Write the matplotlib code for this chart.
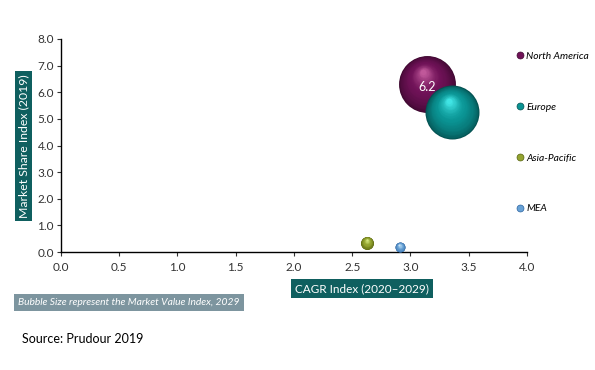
import numpy as np
import matplotlib
matplotlib.use('Agg')
import matplotlib.pyplot as plt
import matplotlib.colors as mcolors
import matplotlib.transforms as mtransforms
from matplotlib.lines import Line2D

plt.rcParams['font.family'] = ['Lato', 'DejaVu Sans']

# data
regions = ['North America', 'Europe', 'Asia-Pacific', 'MEA']
cagr_index = [3.14, 3.36, 2.63, 2.91]
share_index = [6.3, 5.24, 0.34, 0.18]
value_index = [8.1, 7.3, 0.42, 0.25]   # bubble size
labels = ['6.2', '', '', '']

# dark edge, base, highlight
colours = [
    ('#3e0830', '#701258', '#c0589a'),
    ('#045050', '#0a9494', '#40e4e4'),
    ('#56620e', '#94a430', '#d4e880'),
    ('#2c64a0', '#68a2d6', '#c8e6fa'),
]
teal = '#0f5f5f'

def mix(c1, c2, t):
    a = np.array(mcolors.to_rgb(c1))
    b = np.array(mcolors.to_rgb(c2))
    return tuple(a + (b - a) * t)

def sphere(ax, fig, x, y, s, dark, base, light, z):
    r = np.sqrt(s) / 2.0
    n = 32
    for k in range(n):
        t = k / (n - 1.0)
        rad = r * (1 - 0.9 * t)
        tr = mtransforms.offset_copy(ax.transData, fig=fig, x=-0.12 * r * t, y=0.42 * r * t, units='points')
        if t < 0.5:
            c = mix(dark, base, (t / 0.5) ** 0.6)
        else:
            c = mix(base, light, ((t - 0.5) / 0.5) ** 1.5)
        ax.scatter([x], [y], s=(2 * rad) ** 2, color=c, transform=tr, zorder=z + k * 0.001, linewidths=0)

fig = plt.figure(figsize=(5.95, 3.7), dpi=100)
ax = fig.add_axes([0.1025, 0.3189, 0.7832, 0.5757])

scale = 207.0
for i in range(len(regions)):
    sphere(ax, fig, cagr_index[i], share_index[i], value_index[i] * scale, colours[i][0], colours[i][1], colours[i][2], 3 + i)
    if labels[i]:
        ax.text(cagr_index[i], share_index[i] - 0.1, labels[i], color='white', fontsize=9,
                ha='center', va='center', zorder=20)

ax.set_xlim(0, 4)
ax.set_ylim(0, 8)
ax.set_xticks(np.arange(0, 4.01, 0.5))
ax.set_yticks(np.arange(0, 8.01, 1))
ax.set_xticklabels(['%.1f' % v for v in np.arange(0, 4.01, 0.5)])
ax.set_yticklabels(['%.1f' % v for v in np.arange(0, 8.01, 1)])
ax.tick_params(labelsize=8.5, colors='#333333', length=3, width=0.8, pad=2)
ax.tick_params(axis='x', pad=4)
ax.spines['top'].set_visible(False)
ax.spines['right'].set_visible(False)
for sp in ['left', 'bottom']:
    ax.spines[sp].set_color('black')
    ax.spines[sp].set_linewidth(1)

handles = [Line2D([0], [0], marker='o', linestyle='', markersize=5,
                  markerfacecolor=colours[i][1], markeredgecolor=colours[i][0], markeredgewidth=0.5)
           for i in range(len(regions))]
fig.legend(handles, regions, loc='upper left', bbox_to_anchor=(0.857, 0.871), frameon=False,
           labelspacing=4.05, handletextpad=0.0, handlelength=1.2, borderaxespad=0,
           prop={'size': 7.4, 'style': 'italic'})

fig.text(0.0395, 0.605, 'Market Share Index (2019)', rotation=90, color='white', fontsize=8.8,
         ha='center', va='center', bbox=dict(boxstyle='square,pad=0.28', fc=teal, ec='none'))
fig.text(0.609, 0.22, 'CAGR Index (2020\u20132029)', color='white', fontsize=8.5,
         ha='center', va='center', bbox=dict(boxstyle='square,pad=0.35', fc=teal, ec='none'))
fig.text(0.031, 0.182, 'Bubble Size represent the Market Value Index, 2029', color='white', fontsize=7.4,
         style='italic', ha='left', va='center', bbox=dict(boxstyle='square,pad=0.4', fc='#7d959f', ec='none'))
fig.text(0.037, 0.085, 'Source: Prudour 2019', color='black', fontsize=9, ha='left', va='center')

fig.savefig('out.png', dpi=100)
